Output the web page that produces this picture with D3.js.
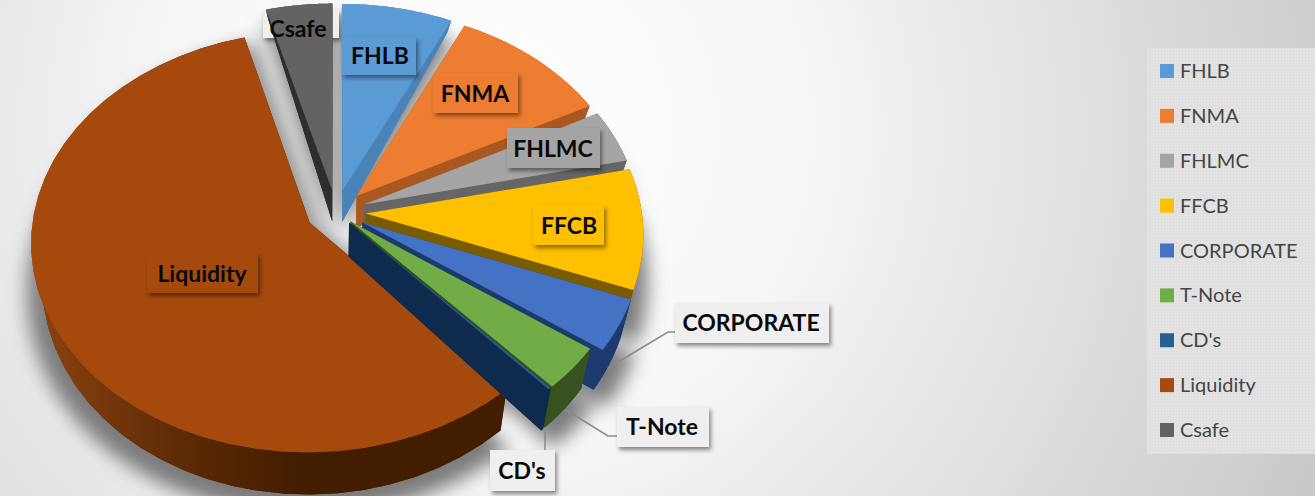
<!DOCTYPE html>
<html>
<head>
<meta charset="utf-8">
<script src="https://cdnjs.cloudflare.com/ajax/libs/d3/7.8.5/d3.min.js"></script>
<style>
  html, body { margin:0; padding:0; background:#fff; overflow:hidden; }
  text { font-family:Lato, "Open Sans", sans-serif; }
</style>
</head>
<body>
<div id="chart"></div>
<script>
var categories = ["FHLB","FNMA","FHLMC","FFCB","CORPORATE","T-Note","CD's","Liquidity","Csafe"];
var shares = [7.1, 10.3, 4.1, 9.3, 4.0, 3.4, 0.15, 57.4, 4.25];

var topColors  = ["#5b9bd5","#ed7d31","#a5a5a5","#ffc000","#4472c4","#70ad47","#255e91","#a5490d","#636363"];
var sideColors = ["#4a83b8","#a9591f","#666666","#7a5c00","#1d3a6e","#35521f","#0e2a4c","#4a2000","#2e2e2e"];

var width = 1315, height = 496;

// rough geometry of the tilted, exploded disc
var cx = 336, cy = 212, rx = 276, ry = 207,
    explode = 0.108, persp = 0.09, depth = 33, shrink = 0.965;

// these two were pulled out less than the others
var explodeBy = { "T-Note":0.07, "CD's":0.07 };

var xs = d3.scaleLinear().domain([-1, 1]).range([cx - rx, cx + rx]);
var ys = d3.scaleLinear().domain([-1, 1]).range([cy - ry, cy + ry]);

function project(u, v, bottom){
    var f = 1 / (1 - persp * v);
    var x = xs(u * f), y = ys(v * f);
    if (bottom){
        x = cx + (x - cx) * shrink;
        y = y + depth * (1 + 0.45 * v - 0.18 * v * v);
    }
    return [x, y];
}

var pieData = d3.pie().sort(null).value(function(d){ return d; })(shares);

pieData.forEach(function(d, i){
    var mid = (d.startAngle + d.endAngle) / 2;
    var e = explodeBy[categories[i]] || explode;
    d.name = categories[i];
    d.du = e * Math.sin(mid);
    d.dv = -e * Math.cos(mid);
    d.rim = d3.range(0, 41).map(function(k){
        var a = d.startAngle + (d.endAngle - d.startAngle) * k / 40;
        return [d.du + Math.sin(a), d.dv - Math.cos(a)];
    });
});

var line = d3.line();

function flat(d, bottom){
    var pts = [[d.du, d.dv]].concat(d.rim).map(function(p){ return project(p[0], p[1], bottom); });
    return line(pts) + "Z";
}
function wallOuter(d){
    var a = d.rim.map(function(p){ return project(p[0], p[1], false); });
    var b = d.rim.map(function(p){ return project(p[0], p[1], true); }).reverse();
    return line(a.concat(b)) + "Z";
}
function wallRadial(d, p){
    var pts = [project(d.du, d.dv, false), project(p[0], p[1], false),
               project(p[0], p[1], true), project(d.du, d.dv, true)];
    return line(pts) + "Z";
}

var svg = d3.select("#chart").append("svg")
    .attr("width", width)
    .attr("height", height)
    .style("display", "block");

var defs = svg.append("defs");

var bg = defs.append("radialGradient").attr("id", "bg")
    .attr("gradientUnits", "userSpaceOnUse")
    .attr("cx", 480).attr("cy", 130).attr("r", 900);
bg.append("stop").attr("offset", "0%").attr("stop-color", "#ffffff");
bg.append("stop").attr("offset", "35%").attr("stop-color", "#f7f7f7");
bg.append("stop").attr("offset", "100%").attr("stop-color", "#c9c9c9");

var liq = defs.append("linearGradient").attr("id", "liqWall")
    .attr("gradientUnits", "userSpaceOnUse")
    .attr("x1", 40).attr("y1", 0).attr("x2", 300).attr("y2", 0);
liq.append("stop").attr("offset", "0%").attr("stop-color", "#8a420f");
liq.append("stop").attr("offset", "55%").attr("stop-color", "#5c2a06");
liq.append("stop").attr("offset", "100%").attr("stop-color", "#431d00");

defs.append("filter").attr("id", "blur")
    .attr("x", "-20%").attr("y", "-20%").attr("width", "140%").attr("height", "140%")
    .append("feGaussianBlur").attr("stdDeviation", 9);

defs.append("filter").attr("id", "boxShadow")
    .attr("x", "-20%").attr("y", "-20%").attr("width", "150%").attr("height", "160%")
    .append("feDropShadow")
    .attr("dx", 2).attr("dy", 3).attr("stdDeviation", 2)
    .attr("flood-color", "#000").attr("flood-opacity", 0.45);

var dots = defs.append("pattern").attr("id", "dots")
    .attr("width", 3).attr("height", 3).attr("patternUnits", "userSpaceOnUse");
dots.append("rect").attr("width", 3).attr("height", 3).attr("fill", "#e2e2e2");
dots.append("rect").attr("width", 1).attr("height", 1).attr("fill", "#d8d8d8");

svg.append("rect").attr("width", width).attr("height", height).attr("fill", "url(#bg)");

// pie shadow, the gaps between the slices go grey from it too
var shadow = svg.append("g")
    .attr("filter", "url(#blur)")
    .attr("transform", "translate(" + cx + "," + (cy + 12) + ") scale(1.05,1.03) translate(" + (-cx) + "," + (-cy) + ")");
shadow.selectAll("path.s1").data(pieData).enter().append("path")
    .attr("d", function(d){ return flat(d, true); })
    .attr("fill", "#7c7c7c");
svg.append("path")
    .attr("d", function(){ return flat(pieData[7], false); })
    .attr("transform", "translate(12,4)")
    .attr("fill", "#9a9a9a")
    .attr("filter", "url(#blur)");

// the Csafe box sits behind its slice
var labelBoxes = {
    "FHLB":      { x:342, y:37,  w:74,  h:38, tx:380, ty:56 },
    "FNMA":      { x:433, y:73,  w:85,  h:40, tx:475, ty:94 },
    "FHLMC":     { x:507, y:128, w:93,  h:40, tx:553, ty:149 },
    "FFCB":      { x:533, y:205, w:71,  h:40, tx:569, ty:226 },
    "CORPORATE": { x:675, y:303, w:154, h:40, tx:751, ty:323 },
    "T-Note":    { x:617, y:407, w:92,  h:40, tx:662, ty:427 },
    "CD's":      { x:490, y:450, w:65,  h:41, tx:522, ty:471 },
    "Liquidity": { x:147, y:253, w:111, h:40, tx:202, ty:274 },
    "Csafe":     { x:263, y:10,  w:76,  h:28, tx:298, ty:29 }
};

svg.append("rect")
    .attr("x", labelBoxes.Csafe.x).attr("y", labelBoxes.Csafe.y)
    .attr("width", labelBoxes.Csafe.w).attr("height", labelBoxes.Csafe.h)
    .attr("fill", "#efefef")
    .attr("filter", "url(#boxShadow)");

// back to front
var paintOrder = [8, 0, 1, 2, 3, 7, 4, 5, 6];
var pie = svg.append("g");

paintOrder.forEach(function(i){
    var d = pieData[i];
    var g = pie.append("g").attr("class", "slice");
    var side = sideColors[i];
    g.append("path").attr("d", flat(d, true)).attr("fill", side);
    g.append("path").attr("d", wallRadial(d, d.rim[0])).attr("fill", side);
    g.append("path").attr("d", wallRadial(d, d.rim[40])).attr("fill", side);
    g.append("path").attr("d", wallOuter(d))
        .attr("fill", d.name == "Liquidity" ? "url(#liqWall)" : side);
    g.append("path").attr("d", flat(d, false)).attr("fill", topColors[i]);
});

// leader lines
var leaders = [
    [[608,368],[668,332],[680,332]],
    [[566,410],[608,436],[622,436]],
    [[545,430],[545,454]]
];
svg.selectAll("path.leader").data(leaders).enter().append("path")
    .attr("class", "leader")
    .attr("d", function(d){ return line(d); })
    .attr("fill", "none")
    .attr("stroke", "#8a8a8a")
    .attr("stroke-width", 1.5);

// data labels
var outside = ["CORPORATE", "T-Note", "CD's"];
var labels = svg.selectAll("g.label").data(pieData).enter().append("g").attr("class", "label");

labels.filter(function(d){ return d.name != "Csafe"; }).append("rect")
    .attr("x", function(d){ return labelBoxes[d.name].x; })
    .attr("y", function(d){ return labelBoxes[d.name].y; })
    .attr("width", function(d){ return labelBoxes[d.name].w; })
    .attr("height", function(d){ return labelBoxes[d.name].h; })
    .attr("fill", function(d){ return outside.includes(d.name) ? "#efefef" : topColors[d.index]; })
    .attr("filter", "url(#boxShadow)");

labels.append("text")
    .attr("x", function(d){ return labelBoxes[d.name].tx; })
    .attr("y", function(d){ return labelBoxes[d.name].ty; })
    .attr("dy", "0.35em")
    .attr("text-anchor", "middle")
    .attr("font-size", 23)
    .attr("font-weight", 700)
    .attr("fill", "#0a0a0a")
    .text(function(d){ return d.name; });

// legend
svg.append("rect")
    .attr("x", 1147).attr("y", 48)
    .attr("width", 168).attr("height", 406)
    .attr("fill", "url(#dots)");

var legendY = d3.scalePoint().domain(categories).range([71, 430]);

var legend = svg.selectAll("g.legend").data(categories).enter().append("g")
    .attr("class", "legend")
    .attr("transform", function(d){ return "translate(1160," + legendY(d) + ")"; });

legend.append("rect")
    .attr("y", -7)
    .attr("width", 14)
    .attr("height", 14)
    .attr("fill", function(d, i){ return topColors[i]; });

legend.append("text")
    .attr("x", 20)
    .attr("dy", "0.35em")
    .attr("font-size", 20)
    .attr("fill", "#454545")
    .text(function(d){ return d; });
</script>
</body>
</html>
